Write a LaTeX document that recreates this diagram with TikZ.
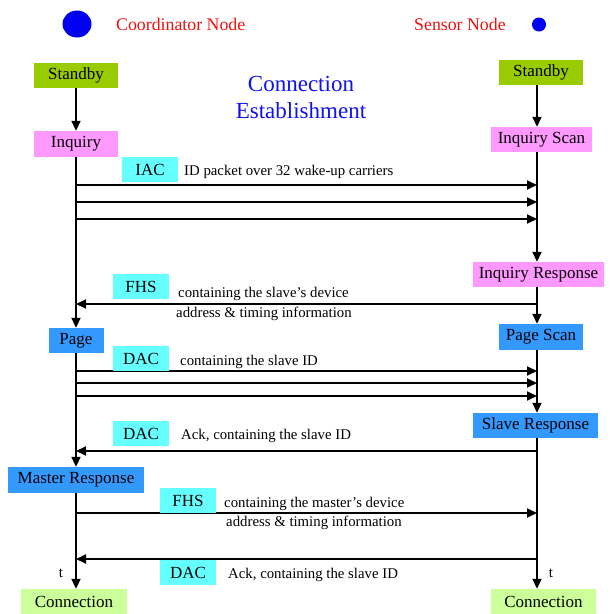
\documentclass[tikz,border=0pt]{standalone}
\usepackage{fontspec}
\setmainfont{Liberation Serif}
\usetikzlibrary{arrows.meta}
\definecolor{cstandby}{HTML}{99CC00}
\definecolor{cinq}{HTML}{FF99FF}
\definecolor{cpage}{HTML}{3399FF}
\definecolor{ccyan}{HTML}{66FFFF}
\definecolor{cconn}{HTML}{CCFF99}
\definecolor{ctitle}{HTML}{1010F0}
\definecolor{cdot}{HTML}{0000F0}
\definecolor{cred}{HTML}{F01010}
\begin{document}
\begin{tikzpicture}[x=1pt,y=-1pt,
  box/.style={inner sep=0pt, minimum height=25pt, font=\fontsize{17}{20}\selectfont},
  stbox/.style={box, fill=cstandby},
  inqbox/.style={box, fill=cinq},
  pgbox/.style={box, fill=cpage},
  pkt/.style={box, fill=ccyan, minimum width=56pt},
  cnbox/.style={box, fill=cconn},
  msg/.style={anchor=west, inner sep=0pt, font=\fontsize{14.8}{17}\selectfont},
  leg/.style={anchor=west, inner sep=0pt, text=cred, font=\fontsize{17.8}{20}\selectfont},
  ttl/.style={inner sep=0pt, align=center, text=ctitle, font=\fontsize{23}{27}\selectfont},
  arr/.style={line width=1.8pt, -{Triangle[length=10pt,width=9pt]}},
  tlab/.style={inner sep=0pt, font=\fontsize{15}{17}\selectfont}]
\useasboundingbox (0,0) rectangle (610,614);

% legend
\fill[cdot] (77,24) ellipse [x radius=14.5pt, y radius=13.5pt];
\node[leg] (coordtxt) at (116,24) {Coordinator Node};
\node[leg] (senstxt) at (414,24) {Sensor Node};
\fill[cdot] (539,24.5) circle [radius=7pt];

% title
\node[ttl] (title) at (301,97) {Connection\\Establishment};

% lifeline reference coordinates
\coordinate (ll) at (76,0);
\coordinate (rl) at (537,0);

% left side states
\node[stbox, minimum width=84pt] (stbL) at (76,75.5) {Standby};
\node[inqbox, minimum width=84pt, minimum height=26pt] (inqL) at (76,144) {Inquiry};
\node[pgbox, minimum width=55pt] (pageL) at (76,340.5) {Page};
\node[pgbox, minimum width=136pt, minimum height=26pt] (mresp) at (76,480) {Master Response};
\node[cnbox, minimum width=106pt] (connL) at (74,601.5) {Connection};

% right side states
\node[stbox, minimum width=84pt] (stbR) at (541,72.5) {Standby};
\node[inqbox, minimum width=101pt] (inqscan) at (541.5,139.5) {Inquiry Scan};
\node[inqbox, minimum width=131pt] (inqresp) at (538.5,274.5) {Inquiry Response};
\node[pgbox, minimum width=84pt, minimum height=26pt] (pagescan) at (541,337) {Page Scan};
\node[pgbox, minimum width=125pt] (sresp) at (535.5,425.5) {Slave Response};
\node[cnbox, minimum width=105pt] (connR) at (543.5,601.5) {Connection};

% lifelines
\draw[arr] (stbL.south -| ll) -- (inqL.north -| ll);
\draw[arr] (inqL.south -| ll) -- (pageL.north -| ll);
\draw[arr] (pageL.south -| ll) -- (mresp.north -| ll);
\draw[arr] (mresp.south -| ll) -- (connL.north -| ll);
\draw[arr] (stbR.south -| rl) -- (inqscan.north -| rl);
\draw[arr] (inqscan.south -| rl) -- (inqresp.north -| rl);
\draw[arr] (inqresp.south -| rl) -- (pagescan.north -| rl);
\draw[arr] (pagescan.south -| rl) -- (sresp.north -| rl);
\draw[arr] (sresp.south -| rl) -- (connR.north -| rl);

% message levels
\foreach \n/\y in {a/185,b/202,c/219,d/304,e/371,f/383,g/396,h/451,i/513,j/559}{
  \coordinate (\n L) at (76,\y);
  \coordinate (\n R) at (537,\y);
}
\draw[arr] (aL) -- (aR);
\draw[arr] (bL) -- (bR);
\draw[arr] (cL) -- (cR);
\draw[arr] (dR) -- (dL);
\draw[arr] (eL) -- (eR);
\draw[arr] (fL) -- (fR);
\draw[arr] (gL) -- (gR);
\draw[arr] (hR) -- (hL);
\draw[arr] (iL) -- (iR);
\draw[arr] (jR) -- (jL);

% packet labels
\node[pkt] (iac) at (150,169.5) {IAC};
\node[pkt] (fhs1) at (141,286.5) {FHS};
\node[pkt] (dac1) at (141,358.5) {DAC};
\node[pkt] (dac2) at (141,433.5) {DAC};
\node[pkt] (fhs2) at (188,500.5) {FHS};
\node[pkt] (dac3) at (188,572.5) {DAC};

% message texts
\node[msg] (t1) at (184,172) {ID packet over 32 wake-up carriers};
\node[msg] (t2) at (178,294) {containing the slave’s device};
\node[msg] (t3) at (176,314) {address \& timing information};
\node[msg] (t4) at (180,362) {containing the slave ID};
\node[msg] (t5) at (181,436) {Ack, containing the slave ID};
\node[msg] (t6) at (224,504) {containing the master’s device};
\node[msg] (t7) at (226,523) {address \& timing information};
\node[msg] (t8) at (228,575) {Ack, containing the slave ID};

% time labels
\node[tlab] (tL) at (61,573) {t};
\node[tlab] (tR) at (551,573) {t};
\end{tikzpicture}
\end{document}
